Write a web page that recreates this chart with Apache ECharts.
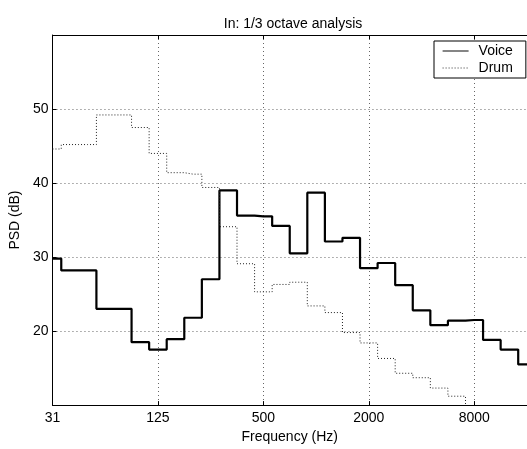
<!DOCTYPE html>
<html>
<head>
<meta charset="utf-8">
<script src="https://cdn.jsdelivr.net/npm/echarts@6/dist/echarts.min.js"></script>
<style>
html,body{margin:0;padding:0;background:#fff;}
#c{width:527px;height:449px;}
</style>
</head>
<body>
<div id="c"></div>
<script>
// 1/3 octave band centres (Hz), used as category labels
const bands = ['31','40','50','63','80','100','125','160','200','250','315','400','500','630','800','1000','1250','1600','2000','2500','3150','4000','5000','6300','8000','10000','12500','16000'];
// PSD (dB) per band
const voice = [29.8,28.2,28.2,23.0,23.0,18.5,17.5,18.9,21.8,27.0,39.0,35.6,35.5,34.2,30.5,38.7,32.1,32.6,28.5,29.2,26.2,22.8,20.8,21.4,21.5,18.8,17.5,15.5];
const drum = [44.6,45.2,45.2,49.2,49.2,47.5,44.0,41.4,41.2,39.4,34.1,29.1,25.3,26.3,26.6,23.4,22.5,19.8,18.4,16.3,14.3,13.7,12.3,11.2,9.5];
const yTicks = [10,20,30,40,50,60];

const FONT = "'Liberation Sans', Arial, Helvetica, sans-serif";
const chart = echarts.init(document.getElementById('c'), null, {renderer:'canvas'});
const gridLine = {show:true, lineStyle:{color:'#666', width:1, type:[1,3]}};
chart.setOption({
  animation:false,
  backgroundColor:'#fff',
  textStyle:{fontFamily:FONT, color:'#000'},
  title:{
    text:'In: 1/3 octave analysis',
    left:288, top:12, textAlign:'center',
    textStyle:{fontFamily:FONT, fontSize:14, fontWeight:'normal', color:'#000'}
  },
  legend:{
    data:['Voice','Drum'],
    orient:'vertical',
    left:434, top:41,
    padding:[3,13,3,8],
    itemGap:3,
    itemWidth:26, itemHeight:14,
    backgroundColor:'#fff',
    borderColor:'#000', borderWidth:1,
    itemStyle:{opacity:0},
    lineStyle:{width:1.2, color:'#333'},
    textStyle:{fontFamily:FONT, fontSize:14, color:'#000', padding:[0,0,0,5], lineHeight:14}
  },
  grid:{left:48, top:35, width:480, height:378, containLabel:false},
  xAxis:[{
    type:'category', data:bands, boundaryGap:false,
    name:'Frequency (Hz)', nameLocation:'middle', nameGap:21,
    nameTextStyle:{fontFamily:FONT, fontSize:14, color:'#000'},
    axisLine:{show:true, lineStyle:{color:'#000', width:1}},
    axisTick:{show:true, inside:true, length:4, interval:5, lineStyle:{color:'#000'}},
    axisLabel:{interval:5, margin:6, fontFamily:FONT, fontSize:14, color:'#000'},
    splitLine:Object.assign({interval:5}, gridLine)
  },{
    type:'category', data:bands, boundaryGap:false, position:'top',
    axisLine:{show:true, lineStyle:{color:'#000', width:1}},
    axisTick:{show:true, inside:true, length:4, interval:5, lineStyle:{color:'#000'}},
    axisLabel:{show:false}, splitLine:{show:false}
  }],
  yAxis:[{
    type:'value', min:yTicks[0], max:yTicks[yTicks.length-1], interval:10,
    name:'PSD (dB)', nameLocation:'middle', nameGap:28, nameRotate:90,
    nameTextStyle:{fontFamily:FONT, fontSize:14, color:'#000'},
    axisLine:{show:true, lineStyle:{color:'#000', width:1}},
    axisTick:{show:true, inside:true, length:4, lineStyle:{color:'#000'}},
    axisLabel:{margin:4, fontFamily:FONT, fontSize:14, color:'#000', showMinLabel:false, showMaxLabel:false},
    splitLine:gridLine
  }],
  series:[{
    name:'Voice', type:'line', step:'middle', data:voice,
    symbol:'none', showSymbol:false, clip:true,
    lineStyle:{color:'#000', width:2.2},
    itemStyle:{color:'#000'}
  },{
    name:'Drum', type:'line', step:'middle', data:drum,
    symbol:'none', showSymbol:false, clip:true,
    lineStyle:{color:'#222', width:1, type:[1,2]},
    itemStyle:{color:'#222'}
  }]
});
</script>
</body>
</html>
